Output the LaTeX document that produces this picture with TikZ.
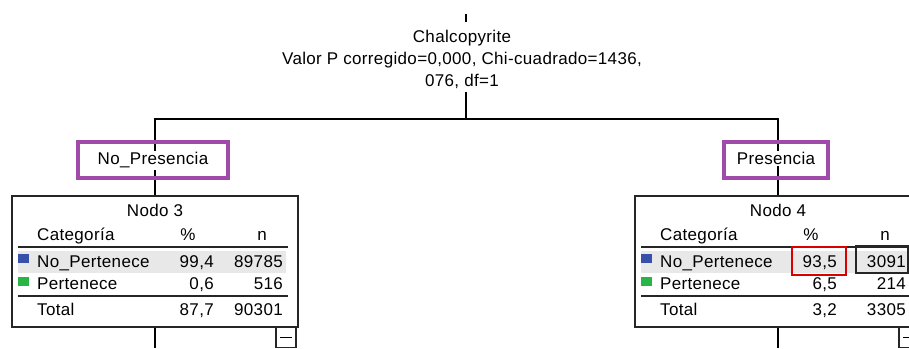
\documentclass[tikz,border=0pt]{standalone}
\usepackage{fontspec}
\setmainfont{Liberation Sans}[LetterSpace=2]
\usepackage{xcolor}
\usepackage{tikz}
\usetikzlibrary{positioning,calc}
\definecolor{labpurple}{RGB}{160,75,170}
\definecolor{catblue}{RGB}{55,80,170}
\definecolor{catgreen}{RGB}{40,180,70}
\definecolor{rowgray}{RGB}{232,232,232}

\begin{document}
\begin{tikzpicture}[x=1pt,y=-1pt,
  font=\fontsize{17}{22}\selectfont,
  every node/.style={inner sep=0pt},
  edge/.style={black,line width=1.3pt},
  labbox/.style={draw=labpurple,line width=3.5pt,minimum height=36pt},
  nodebox/.style={draw=black!85,line width=1.5pt,minimum width=286pt,minimum height=131pt},
  rule/.style={black!85,line width=1.3pt}]
\useasboundingbox (0,0) rectangle (909,348);
% root split text
\coordinate (rtop) at (466,14);
\coordinate (rbot) at (466,22);
\draw[edge] (rtop) -- (rbot);
\node[align=center] (root) at (462,59) {Chalcopyrite\\Valor P corregido=0,000, Chi-cuadrado=1436,\\076, df=1};
\coordinate (r1) at (466,92);
\coordinate (rj) at (466,119);
\draw[edge] (r1) -- (rj);
% the two child nodes
\foreach \cx/\k/\lab/\lw/\pa/\na/\pb/\nb/\pt/\nt in
  {155/3/No\_Presencia/150/{99,4}/89785/{0,6}/516/{87,7}/90301,
   778/4/Presencia/104/{93,5}/3091/{6,5}/214/{3,2}/3305}{
  \node[nodebox] (n\k) at (\cx,261.5) {};
  \draw[edge] (rj) -| (n\k.north);
  \node[labbox,minimum width=\lw pt] (lab\k) at (\cx-2,160) {};
  \node[fill=white,inner sep=1.5pt,anchor=mid] (tl\k) at ($(lab\k.center)+(0,2)$) {\lab};
  % table inside
  \fill[rowgray] (\cx-137,251) rectangle (\cx+131,273);
  \node[anchor=mid] (ttl\k) at (\cx,214) {Nodo \k};
  \node[anchor=mid west] (hc\k) at (\cx-118,238) {Categoría};
  \node[anchor=mid] (hp\k) at (\cx+33,238) {\%};
  \node[anchor=mid] (hn\k) at (\cx+107,238) {n};
  \draw[rule] (\cx-137,247) -- (\cx+133,247);
  \fill[catblue] (\cx-137,254) rectangle (\cx-126,263);
  \node[anchor=mid west] (ca\k) at (\cx-118,265) {No\_Pertenece};
  \node[anchor=mid east] (pa\k) at (\cx+59,265) {\pa};
  \node[anchor=mid east] (na\k) at (\cx+128,265) {\na};
  \fill[catgreen] (\cx-137,277) rectangle (\cx-126,286);
  \node[anchor=mid west] (cb\k) at (\cx-118,287) {Pertenece};
  \node[anchor=mid east] (pb\k) at (\cx+59,287) {\pb};
  \node[anchor=mid east] (nb\k) at (\cx+128,287) {\nb};
  \draw[rule] (\cx-137,296) -- (\cx+133,296);
  \node[anchor=mid west] (ct\k) at (\cx-118,313) {Total};
  \node[anchor=mid east] (pt\k) at (\cx+59,313) {\pt};
  \node[anchor=mid east] (nt\k) at (\cx+128,313) {\nt};
  % collapse button and lower edge
  \coordinate (low\k) at (\cx,348);
  \draw[edge] (n\k.south) -- (low\k);
  \node[draw=black!85,line width=1.2pt,minimum width=20pt,minimum height=20pt] (mb\k) at (\cx+131,337.5) {};
  \draw[line width=1.2pt] ($(mb\k.center)+(-6,0)$) -- ($(mb\k.center)+(6,0)$);
}
% highlighted cells in node 4
\draw[red!85!black,line width=1.2pt] (792,247) rectangle (846,275);
\draw[black!85,line width=1.2pt] (856,246) rectangle (908,273);
\end{tikzpicture}
\end{document}
